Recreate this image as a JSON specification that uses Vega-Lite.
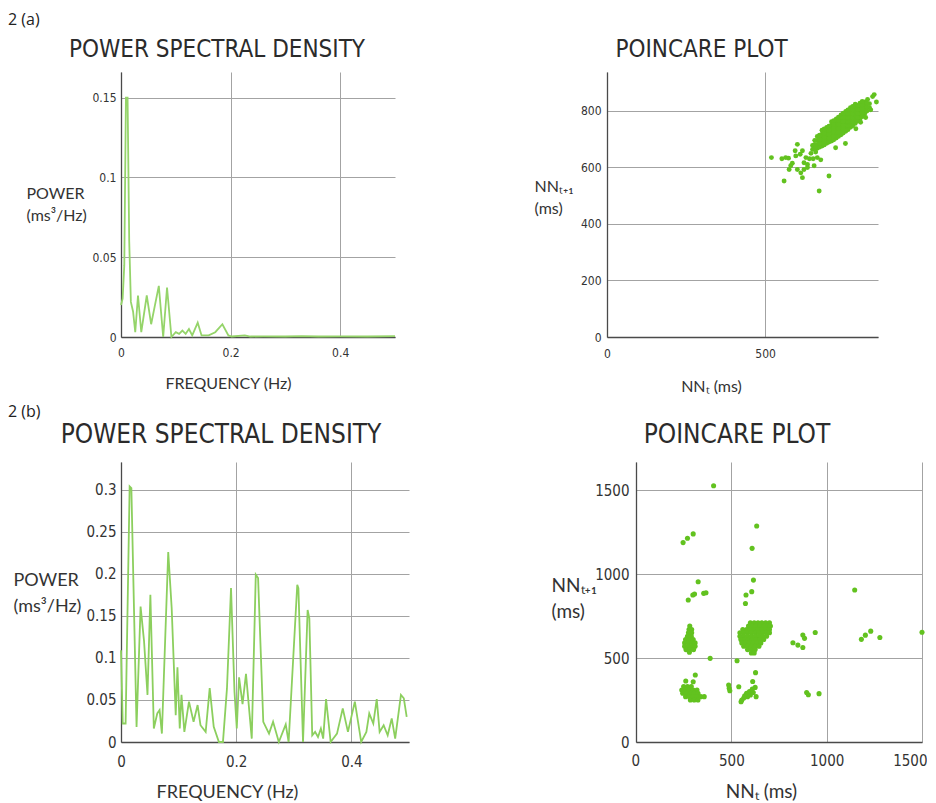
{
"$schema": "https://vega.github.io/schema/vega-lite/v6.json",
"background": "white",
"padding": {"left": 8, "top": 12, "right": 0, "bottom": 0},
"bounds": "flush",
"spacing": 390,
"config": {
  "view": {"stroke": null},
  "axis": {"ticks": false, "domainColor": "#4a4a4a", "domainWidth": 1.3, "gridColor": "#a3a3a3", "gridWidth": 1, "labelFont": "DejaVu Sans Condensed, DejaVu Sans, sans-serif", "labelColor": "#333333", "titleFont": "Lato", "titleFontWeight": "normal", "titleColor": "#333333", "labelFlush": false, "labelOverlap": false},
  "title": {"font": "DejaVu Sans Condensed, DejaVu Sans, sans-serif", "fontWeight": "normal", "color": "#2b2b2b"}
},
"datasets": {
  "psdA": [
    {"f":0,"p":0.020},{"f":0.003,"p":0.024},{"f":0.006,"p":0.045},{"f":0.009,"p":0.150},{"f":0.012,"p":0.150},{"f":0.015,"p":0.060},{"f":0.018,"p":0.022},{"f":0.022,"p":0.016},{"f":0.026,"p":0.003},{"f":0.031,"p":0.026},{"f":0.037,"p":0.003},{"f":0.047,"p":0.026},{"f":0.055,"p":0.008},{"f":0.069,"p":0.032},{"f":0.077,"p":0.000},{"f":0.084,"p":0.031},{"f":0.092,"p":0.000},{"f":0.100,"p":0.003},{"f":0.106,"p":0.002},{"f":0.112,"p":0.004},{"f":0.118,"p":0.002},{"f":0.124,"p":0.005},{"f":0.130,"p":0.001},{"f":0.140,"p":0.009},{"f":0.147,"p":0.001},{"f":0.160,"p":0.001},{"f":0.172,"p":0.003},{"f":0.185,"p":0.008},{"f":0.196,"p":0.001},{"f":0.202,"p":0.0003},{"f":0.226,"p":0.001},{"f":0.236,"p":0.0003},{"f":0.26,"p":0.0004},{"f":0.3,"p":0.0003},{"f":0.33,"p":0.0006},{"f":0.36,"p":0.0003},{"f":0.4,"p":0.0004},{"f":0.45,"p":0.0003},{"f":0.5,"p":0.0005}
  ],
  "psdB": [
    {"f":0,"p":0.109},{"f":0.003,"p":0.022},{"f":0.008,"p":0.022},{"f":0.015,"p":0.304},{"f":0.018,"p":0.302},{"f":0.027,"p":0.018},{"f":0.034,"p":0.161},{"f":0.040,"p":0.120},{"f":0.046,"p":0.056},{"f":0.051,"p":0.175},{"f":0.057,"p":0.016},{"f":0.063,"p":0.034},{"f":0.067,"p":0.038},{"f":0.071,"p":0.010},{"f":0.082,"p":0.226},{"f":0.088,"p":0.159},{"f":0.095,"p":0.032},{"f":0.098,"p":0.089},{"f":0.102,"p":0.016},{"f":0.105,"p":0.056},{"f":0.110,"p":0.012},{"f":0.118,"p":0.048},{"f":0.126,"p":0.024},{"f":0.133,"p":0.044},{"f":0.138,"p":0.020},{"f":0.147,"p":0.012},{"f":0.154,"p":0.064},{"f":0.161,"p":0.018},{"f":0.170,"p":0.0},{"f":0.177,"p":0.0},{"f":0.184,"p":0.064},{"f":0.191,"p":0.183},{"f":0.197,"p":0.060},{"f":0.201,"p":0.016},{"f":0.205,"p":0.077},{"f":0.211,"p":0.045},{"f":0.217,"p":0.081},{"f":0.227,"p":0.004},{"f":0.234,"p":0.199},{"f":0.238,"p":0.195},{"f":0.247,"p":0.024},{"f":0.257,"p":0.010},{"f":0.264,"p":0.024},{"f":0.274,"p":0.0},{"f":0.286,"p":0.021},{"f":0.291,"p":0.0},{"f":0.306,"p":0.187},{"f":0.308,"p":0.183},{"f":0.316,"p":0.0},{"f":0.324,"p":0.157},{"f":0.327,"p":0.147},{"f":0.332,"p":0.008},{"f":0.337,"p":0.012},{"f":0.342,"p":0.006},{"f":0.347,"p":0.016},{"f":0.351,"p":0.004},{"f":0.356,"p":0.051},{"f":0.364,"p":0.0},{"f":0.375,"p":0.010},{"f":0.385,"p":0.040},{"f":0.394,"p":0.012},{"f":0.406,"p":0.048},{"f":0.417,"p":0.0},{"f":0.426,"p":0.012},{"f":0.431,"p":0.034},{"f":0.438,"p":0.022},{"f":0.444,"p":0.051},{"f":0.449,"p":0.012},{"f":0.456,"p":0.020},{"f":0.463,"p":0.008},{"f":0.470,"p":0.028},{"f":0.476,"p":0.004},{"f":0.486,"p":0.056},{"f":0.491,"p":0.052},{"f":0.496,"p":0.030}
  ],
  "poinA": [
    {"x":650,"y":664},{"x":650,"y":678},
    {"x":665,"y":668},{"x":665,"y":682},{"x":665,"y":696},{"x":665,"y":710},
    {"x":680,"y":676},{"x":680,"y":690},{"x":680,"y":704},{"x":680,"y":718},{"x":680,"y":732},
    {"x":695,"y":686},{"x":695,"y":700},{"x":695,"y":714},{"x":695,"y":728},{"x":695,"y":742},
    {"x":710,"y":694},{"x":710,"y":708},{"x":710,"y":722},{"x":710,"y":736},{"x":710,"y":750},{"x":710,"y":762},
    {"x":725,"y":704},{"x":725,"y":718},{"x":725,"y":732},{"x":725,"y":746},{"x":725,"y":760},{"x":725,"y":772},
    {"x":740,"y":716},{"x":740,"y":730},{"x":740,"y":744},{"x":740,"y":758},{"x":740,"y":772},{"x":740,"y":786},
    {"x":755,"y":728},{"x":755,"y":742},{"x":755,"y":756},{"x":755,"y":770},{"x":755,"y":784},{"x":755,"y":798},
    {"x":770,"y":742},{"x":770,"y":756},{"x":770,"y":770},{"x":770,"y":784},{"x":770,"y":798},{"x":770,"y":812},
    {"x":785,"y":756},{"x":785,"y":770},{"x":785,"y":784},{"x":785,"y":798},{"x":785,"y":812},{"x":785,"y":824},
    {"x":800,"y":772},{"x":800,"y":786},{"x":800,"y":800},{"x":800,"y":814},{"x":800,"y":828},
    {"x":815,"y":790},{"x":815,"y":804},{"x":815,"y":818},{"x":815,"y":832},
    {"x":830,"y":812},{"x":830,"y":826},
    {"x":657,"y":668},{"x":657,"y":682},{"x":657,"y":696},
    {"x":672,"y":672},{"x":672,"y":686},{"x":672,"y":700},{"x":672,"y":714},
    {"x":687,"y":680},{"x":687,"y":694},{"x":687,"y":708},{"x":687,"y":722},{"x":687,"y":736},
    {"x":702,"y":690},{"x":702,"y":704},{"x":702,"y":718},{"x":702,"y":732},{"x":702,"y":746},
    {"x":717,"y":698},{"x":717,"y":712},{"x":717,"y":726},{"x":717,"y":740},{"x":717,"y":754},{"x":717,"y":766},
    {"x":732,"y":710},{"x":732,"y":724},{"x":732,"y":738},{"x":732,"y":752},{"x":732,"y":766},{"x":732,"y":778},
    {"x":747,"y":722},{"x":747,"y":736},{"x":747,"y":750},{"x":747,"y":764},{"x":747,"y":778},{"x":747,"y":792},
    {"x":762,"y":734},{"x":762,"y":748},{"x":762,"y":762},{"x":762,"y":776},{"x":762,"y":790},{"x":762,"y":804},
    {"x":777,"y":748},{"x":777,"y":762},{"x":777,"y":776},{"x":777,"y":790},{"x":777,"y":804},{"x":777,"y":816},
    {"x":792,"y":764},{"x":792,"y":778},{"x":792,"y":792},{"x":792,"y":806},{"x":792,"y":820},
    {"x":807,"y":780},{"x":807,"y":794},{"x":807,"y":808},{"x":807,"y":822},{"x":807,"y":834},
    {"x":822,"y":800},{"x":822,"y":814},{"x":822,"y":828},
    {"x":520,"y":635},{"x":553,"y":631},{"x":565,"y":635},{"x":574,"y":633},{"x":586,"y":615},{"x":602,"y":682},{"x":595,"y":659},{"x":597,"y":641},{"x":611,"y":647},{"x":618,"y":659},{"x":629,"y":635},{"x":640,"y":631},{"x":652,"y":631},{"x":665,"y":635},{"x":676,"y":627},{"x":634,"y":611},{"x":623,"y":617},{"x":581,"y":606},{"x":576,"y":593},{"x":602,"y":593},{"x":623,"y":593},{"x":634,"y":600},{"x":655,"y":606},{"x":560,"y":552},{"x":618,"y":564},{"x":702,"y":570},{"x":671,"y":517},{"x":613,"y":581},{"x":754,"y":685},{"x":723,"y":670},{"x":824,"y":841},{"x":840,"y":851},{"x":852,"y":832},{"x":845,"y":858},{"x":834,"y":804},{"x":818,"y":777},{"x":802,"y":760},{"x":787,"y":737},{"x":645,"y":650},{"x":660,"y":655}
  ],
  "poinB": [
    {"x":600,"y":710},{"x":620,"y":710},{"x":640,"y":710},{"x":660,"y":710},{"x":680,"y":710},{"x":700,"y":710},
    {"x":590,"y":690},{"x":610,"y":690},{"x":630,"y":690},{"x":650,"y":690},{"x":670,"y":690},{"x":690,"y":690},{"x":705,"y":690},
    {"x":560,"y":670},{"x":580,"y":670},{"x":600,"y":670},{"x":620,"y":670},{"x":640,"y":670},{"x":660,"y":670},{"x":680,"y":670},{"x":700,"y":670},
    {"x":545,"y":650},{"x":565,"y":650},{"x":585,"y":650},{"x":605,"y":650},{"x":625,"y":650},{"x":645,"y":650},{"x":665,"y":650},{"x":685,"y":650},{"x":700,"y":650},
    {"x":545,"y":630},{"x":565,"y":630},{"x":585,"y":630},{"x":605,"y":630},{"x":625,"y":630},{"x":645,"y":630},{"x":665,"y":630},{"x":685,"y":630},
    {"x":550,"y":610},{"x":570,"y":610},{"x":590,"y":610},{"x":610,"y":610},{"x":630,"y":610},{"x":650,"y":610},{"x":670,"y":610},
    {"x":555,"y":590},{"x":575,"y":590},{"x":595,"y":590},{"x":615,"y":590},{"x":635,"y":590},{"x":655,"y":590},
    {"x":565,"y":570},{"x":585,"y":570},{"x":605,"y":570},{"x":625,"y":570},{"x":645,"y":570},
    {"x":585,"y":550},{"x":605,"y":550},{"x":625,"y":550},
    {"x":605,"y":530},{"x":620,"y":530},
    {"x":282,"y":690},{"x":278,"y":670},{"x":292,"y":670},{"x":275,"y":650},{"x":292,"y":650},{"x":270,"y":630},{"x":290,"y":630},
    {"x":260,"y":610},{"x":280,"y":610},{"x":300,"y":610},{"x":255,"y":590},{"x":275,"y":590},{"x":295,"y":590},{"x":310,"y":590},
    {"x":255,"y":570},{"x":275,"y":570},{"x":295,"y":570},{"x":310,"y":570},{"x":262,"y":550},{"x":282,"y":550},{"x":302,"y":550},{"x":280,"y":535},
    {"x":250,"y":330},{"x":270,"y":330},{"x":290,"y":330},
    {"x":240,"y":310},{"x":260,"y":310},{"x":280,"y":310},{"x":300,"y":310},{"x":320,"y":310},
    {"x":245,"y":290},{"x":265,"y":290},{"x":285,"y":290},{"x":305,"y":290},{"x":325,"y":290},
    {"x":260,"y":270},{"x":280,"y":270},{"x":300,"y":270},{"x":320,"y":270},{"x":340,"y":270},{"x":358,"y":270},
    {"x":285,"y":250},{"x":305,"y":250},{"x":325,"y":250},
    {"x":580,"y":290},{"x":595,"y":300},{"x":610,"y":315},{"x":600,"y":280},{"x":615,"y":295},{"x":585,"y":270},{"x":570,"y":275},{"x":625,"y":325},{"x":555,"y":250},{"x":565,"y":262},{"x":630,"y":270},{"x":551,"y":240},
    {"x":489,"y":320},{"x":486,"y":339},{"x":492,"y":305},{"x":539,"y":329},{"x":627,"y":413},{"x":612,"y":360},
    {"x":311,"y":399},{"x":300,"y":359},{"x":261,"y":363},
    {"x":407,"y":1526},{"x":633,"y":1286},{"x":609,"y":1153},{"x":247,"y":1187},{"x":270,"y":1213},{"x":300,"y":1239},{"x":326,"y":954},
    {"x":274,"y":845},{"x":298,"y":875},{"x":307,"y":881},{"x":355,"y":885},{"x":367,"y":889},{"x":616,"y":964},{"x":577,"y":875},{"x":607,"y":895},{"x":574,"y":825},
    {"x":1147,"y":905},{"x":389,"y":498},{"x":530,"y":484},{"x":940,"y":652},
    {"x":823,"y":591},{"x":849,"y":577},{"x":875,"y":563},{"x":875,"y":637},{"x":884,"y":617},
    {"x":1182,"y":611},{"x":1203,"y":636},{"x":1231,"y":660},{"x":1279,"y":622},{"x":1500,"y":653},
    {"x":895,"y":295},{"x":904,"y":281},{"x":960,"y":288}
  ]
},
"vconcat": [
  {
    "title": {"text": "2 (a)", "anchor": "start", "frame": "group", "dx": -113, "fontSize": 16, "font": "Open Sans", "color": "#222222", "offset": 10},
    "bounds": "flush",
    "spacing": 212,
    "hconcat": [
      {
        "width": 274, "height": 265,
        "title": {"text": "POWER SPECTRAL DENSITY", "fontSize": 24, "frame": "group", "dx": -41, "offset": -9, "baseline": "alphabetic"},
        "data": {"name": "psdA"},
        "mark": {"type": "line", "color": "#95d46a", "strokeWidth": 1.8},
        "encoding": {
          "x": {"field": "f", "type": "quantitative", "scale": {"domain": [0, 0.5], "nice": false}, "axis": {"values": [0, 0.2, 0.4], "format": "~g", "title": "FREQUENCY (Hz)", "titleX": 107, "titleY": 51, "titleBaseline": "alphabetic", "titleAlign": "center", "titleFontSize": 16, "labelFontSize": 12, "labelPadding": 10}},
          "y": {"field": "p", "type": "quantitative", "scale": {"domain": [0, 0.166], "nice": false}, "axis": {"values": [0, 0.05, 0.1, 0.15], "format": "~g", "title": ["POWER", "(ms³/Hz)"], "titleAngle": 0, "titleAlign": "left", "titleBaseline": "top", "titleX": -95, "titleY": 113, "titleFontSize": 16, "titleLineHeight": 22, "labelFontSize": 12, "labelPadding": 5}}
        }
      },
      {
        "width": 271, "height": 265,
        "title": {"text": "POINCARE PLOT", "fontSize": 24, "frame": "group", "dx": -41, "offset": -9, "baseline": "alphabetic"},
        "data": {"name": "poinA"},
        "mark": {"type": "circle", "color": "#62c21f", "size": 24, "opacity": 1},
        "encoding": {
          "x": {"field": "x", "type": "quantitative", "scale": {"domain": [0, 857], "nice": false}, "axis": {"values": [0, 500], "format": "d", "title": "NNₜ (ms)", "titleX": 104, "titleY": 54, "titleBaseline": "alphabetic", "titleAlign": "center", "titleFontSize": 16, "labelFontSize": 12, "labelPadding": 11}},
          "y": {"field": "y", "type": "quantitative", "scale": {"domain": [0, 938], "nice": false}, "axis": {"values": [0, 200, 400, 600, 800], "format": "d", "title": ["NNₜ₊₁", "(ms)"], "titleAngle": 0, "titleAlign": "left", "titleBaseline": "top", "titleX": -73, "titleY": 106, "titleFontSize": 16, "titleLineHeight": 22, "labelFontSize": 12, "labelPadding": 6}}
        }
      }
    ]
  },
  {
    "title": {"text": "2 (b)", "anchor": "start", "frame": "group", "dx": -113, "fontSize": 16, "font": "Open Sans", "color": "#222222", "offset": 2},
    "bounds": "flush",
    "spacing": 227,
    "hconcat": [
      {
        "width": 288, "height": 280,
        "title": {"text": "POWER SPECTRAL DENSITY", "fontSize": 26, "frame": "group", "dx": -44, "offset": -7, "baseline": "alphabetic"},
        "data": {"name": "psdB"},
        "mark": {"type": "line", "color": "#8ccf5e", "strokeWidth": 1.8},
        "encoding": {
          "x": {"field": "f", "type": "quantitative", "scale": {"domain": [0, 0.5], "nice": false}, "axis": {"values": [0, 0.2, 0.4], "format": "~g", "title": "FREQUENCY (Hz)", "titleX": 106, "titleY": 55, "titleBaseline": "alphabetic", "titleAlign": "center", "titleFontSize": 18, "labelFontSize": 15, "labelPadding": 12}},
          "y": {"field": "p", "type": "quantitative", "scale": {"domain": [0, 0.333], "nice": false}, "axis": {"values": [0, 0.05, 0.1, 0.15, 0.2, 0.25, 0.3], "format": "~g", "title": ["POWER", "(ms³/Hz)"], "titleAngle": 0, "titleAlign": "left", "titleBaseline": "top", "titleX": -108, "titleY": 109, "titleFontSize": 18, "titleLineHeight": 26, "labelFontSize": 15, "labelPadding": 5}}
        }
      },
      {
        "width": 286, "height": 280,
        "title": {"text": "POINCARE PLOT", "fontSize": 26, "frame": "group", "dx": -42, "offset": -7, "baseline": "alphabetic"},
        "data": {"name": "poinB"},
        "mark": {"type": "circle", "color": "#62c21f", "size": 26, "opacity": 1},
        "encoding": {
          "x": {"field": "x", "type": "quantitative", "scale": {"domain": [0, 1500], "nice": false}, "axis": {"values": [0, 500, 1000, 1500], "format": "d", "labelFlush": true, "labelFlushOffset": 5, "title": "NNₜ (ms)", "titleX": 125, "titleY": 55, "titleBaseline": "alphabetic", "titleAlign": "center", "titleFontSize": 19, "labelFontSize": 15, "labelPadding": 11}},
          "y": {"field": "y", "type": "quantitative", "scale": {"domain": [0, 1667], "nice": false}, "axis": {"values": [0, 500, 1000, 1500], "format": "d", "title": ["NNₜ₊₁", "(ms)"], "titleAngle": 0, "titleAlign": "left", "titleBaseline": "top", "titleX": -85, "titleY": 114, "titleFontSize": 19, "titleLineHeight": 26, "labelFontSize": 15, "labelPadding": 7}}
        }
      }
    ]
  }
]
}
